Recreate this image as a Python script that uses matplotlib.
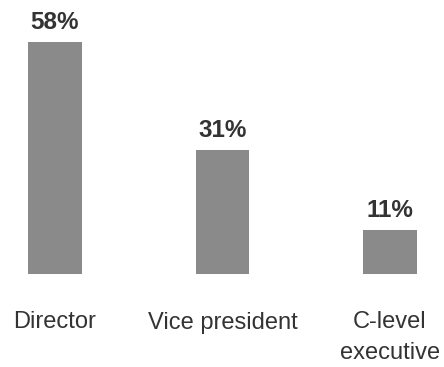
import numpy as np
import matplotlib
matplotlib.use('Agg')
import matplotlib.pyplot as plt

plt.rcParams['font.family'] = ['Liberation Sans', 'DejaVu Sans']

categories = ['Director', 'Vice president', 'C-level\nexecutive']
shares = [58, 31, 11]

fig = plt.figure(figsize=(4.44, 3.67), dpi=100)
ax = fig.add_axes([0, 93 / 367, 1, 274 / 367])

x = np.arange(len(categories))
ax.bar(x, shares, width=0.322, color='#8a8a8a')

for xi, v in zip(x, shares):
    ax.annotate('{}%'.format(v), (xi, v), xytext=(0, 6), textcoords='offset points',
                ha='center', va='bottom', fontsize=17.5, fontweight='bold', color='#333333')

ax.set_xlim(-0.328, 2.322)
ax.set_ylim(0, 68.5)
ax.set_xticks(x)
ax.set_xticklabels(categories, fontsize=17, color='#333333', linespacing=1.5)
ax.tick_params(axis='x', length=0, pad=27)
ax.set_yticks([])
for s in ax.spines.values():
    s.set_visible(False)

fig.savefig('out.png', dpi=100)
